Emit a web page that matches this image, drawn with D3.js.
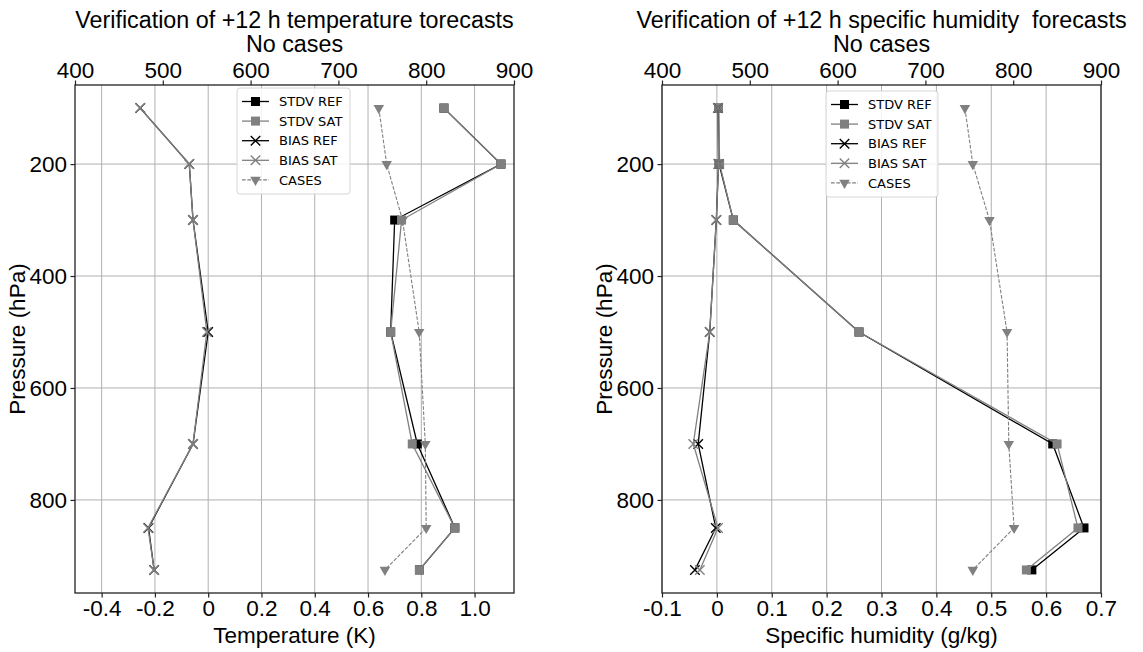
<!DOCTYPE html>
<html>
<head>
<meta charset="utf-8">
<script src="https://cdn.jsdelivr.net/npm/d3@7"></script>
<style>
    body { margin: 0; background: #fff; }
    svg text { font-family: "Liberation Sans", Arial, sans-serif; fill: #000; }
    svg .legend text { font-family: "DejaVu Sans", sans-serif; }
</style>
</head>
<body>
<div id="graph-container"></div>
<script>
// DATA
const pressureLevels = [100, 200, 300, 500, 700, 850, 925]

const tempStdvRef = [0.885, 1.099, 0.700, 0.685, 0.785, 0.926, 0.793]
const tempStdvSat = [0.885, 1.099, 0.726, 0.685, 0.766, 0.926, 0.793]
const tempBiasRef = [-0.255, -0.071, -0.057, 0.000, -0.057, -0.224, -0.203]
const tempBiasSat = [-0.255, -0.071, -0.057, -0.005, -0.057, -0.226, -0.203]
const tempCases = [746, 755, 773, 792, 799, 800, 753]

const humStdvRef = [0.003, 0.004, 0.030, 0.259, 0.612, 0.669, 0.574]
const humStdvSat = [0.003, 0.005, 0.030, 0.259, 0.620, 0.658, 0.564]
const humBiasRef = [0.002, 0.003, -0.001, -0.013, -0.034, -0.002, -0.040]
const humBiasSat = [0.002, 0.003, -0.001, -0.013, -0.043, 0.002, -0.031]
const humCases = [745, 754, 773, 793, 795, 801, 754]

const tempTicks = [-0.4, -0.2, 0, 0.2, 0.4, 0.6, 0.8, 1.0]
const humTicks = [-0.1, 0, 0.1, 0.2, 0.3, 0.4, 0.5, 0.6, 0.7]
const caseTicks = [400, 500, 600, 700, 800, 900]
const pressureTicks = [200, 400, 600, 800]
const legendLabels = ['STDV REF', 'STDV SAT', 'BIAS REF', 'BIAS SAT', 'CASES']

// SETTINGS
const settings = {
    width: 1143,
    height: 652,
    top: 85,
    bottom: 593,
    fontSize: 22.5,
    titleSize: 23.3,
    gridColor: '#b0b0b0',
    refColor: '#000000',
    satColor: '#808080',
    pressureDomain: [966.25, 58.75],
    caseDomain: [400, 900]
}

const panels = [
    {
        left: 75, right: 514,
        title: 'Verification of +12 h temperature torecasts',
        xLabel: 'Temperature (K)',
        xDomain: [-0.5, 1.148],
        xTicks: tempTicks,
        series: [tempStdvRef, tempStdvSat, tempBiasRef, tempBiasSat],
        cases: tempCases,
        legend: { x: 237, y: 88, width: 113 }
    },
    {
        left: 662, right: 1101,
        title: 'Verification of +12 h specific humidity\u00a0 forecasts',
        xLabel: 'Specific humidity (g/kg)',
        xDomain: [-0.1, 0.7],
        xTicks: humTicks,
        series: [humStdvRef, humStdvSat, humBiasRef, humBiasSat],
        cases: humCases,
        legend: { x: 826, y: 91, width: 112 }
    }
]

// style for each line: STDV REF, STDV SAT, BIAS REF, BIAS SAT, CASES
const styles = [
    { color: settings.refColor, symbol: d3.symbolSquare, size: 81, filled: true, dash: null },
    { color: settings.satColor, symbol: d3.symbolSquare, size: 81, filled: true, dash: null },
    { color: settings.refColor, symbol: d3.symbolTimes, size: 60, filled: false, dash: null },
    { color: settings.satColor, symbol: d3.symbolTimes, size: 60, filled: false, dash: null },
    { color: settings.satColor, symbol: d3.symbolTriangle, size: 48, filled: true, dash: '3.7,1.6', rotate: 180 }
]

const fmt = d => d === 0 ? '0' : d.toFixed(1)

const svg = d3.select('#graph-container').append('svg')
    .attr('width', settings.width)
    .attr('height', settings.height)

panels.forEach(p => drawPanel(svg, p))

function drawPanel(svg, p) {
    const x = d3.scaleLinear().domain(p.xDomain).range([p.left, p.right])
    const xTop = d3.scaleLinear().domain(settings.caseDomain).range([p.left, p.right])
    const y = d3.scaleLinear().domain(settings.pressureDomain).range([settings.bottom, settings.top])
    const g = svg.append('g')

    // grid
    g.selectAll('.vgrid').data(p.xTicks).enter().append('line')
        .attr('x1', d => x(d)).attr('x2', d => x(d))
        .attr('y1', settings.top).attr('y2', settings.bottom)
        .attr('stroke', settings.gridColor).attr('stroke-width', 1)
    g.selectAll('.hgrid').data(pressureTicks).enter().append('line')
        .attr('x1', p.left).attr('x2', p.right)
        .attr('y1', d => y(d)).attr('y2', d => y(d))
        .attr('stroke', settings.gridColor).attr('stroke-width', 1)

    // data lines
    p.series.forEach((values, i) => drawSeries(g, values.map((v, k) => [x(v), y(pressureLevels[k])]), styles[i]))
    drawSeries(g, p.cases.map((v, k) => [xTop(v), y(pressureLevels[k])]), styles[4])

    // frame
    g.append('rect')
        .attr('x', p.left).attr('y', settings.top)
        .attr('width', p.right - p.left).attr('height', settings.bottom - settings.top)
        .attr('fill', 'none').attr('stroke', '#222').attr('stroke-width', 1.3)

    // axes
    const xAxis = d3.axisBottom(x).tickValues(p.xTicks).tickFormat(fmt).tickSize(4.5).tickPadding(3)
    const topAxis = d3.axisTop(xTop).tickValues(caseTicks).tickFormat(d3.format('d')).tickSize(4.5).tickPadding(3)
    const yAxis = d3.axisLeft(y).tickValues(pressureTicks).tickFormat(d3.format('d')).tickSize(4.5).tickPadding(3.5)

    styleAxis(g.append('g').attr('transform', `translate(0, ${settings.bottom})`).call(xAxis))
    styleAxis(g.append('g').attr('transform', `translate(0, ${settings.top})`).call(topAxis))
    styleAxis(g.append('g').attr('transform', `translate(${p.left}, 0)`).call(yAxis))

    const cx = (p.left + p.right) / 2
    g.append('text').attr('x', cx).attr('y', 28).attr('text-anchor', 'middle')
        .style('font-size', settings.titleSize + 'px').text(p.title)
    g.append('text').attr('x', cx).attr('y', 52).attr('text-anchor', 'middle')
        .style('font-size', settings.titleSize + 'px').text('No cases')
    g.append('text').attr('x', cx).attr('y', 643).attr('text-anchor', 'middle')
        .style('font-size', settings.fontSize + 'px').text(p.xLabel)
    g.append('text')
        .attr('transform', `translate(${p.left - 50}, ${(settings.top + settings.bottom) / 2}) rotate(-90)`)
        .attr('text-anchor', 'middle')
        .style('font-size', settings.fontSize + 'px').text('Pressure (hPa)')

    drawLegend(g, p.legend)
}

function drawMarkers(g, points, s) {
    g.selectAll(null).data(points).enter().append('path')
        .attr('transform', d => `translate(${d[0]}, ${d[1]})` + (s.rotate ? ` rotate(${s.rotate})` : ''))
        .attr('d', d3.symbol().type(s.symbol).size(s.size))
        .attr('fill', s.filled ? s.color : 'none')
        .attr('stroke', s.filled ? 'none' : s.color)
        .attr('stroke-width', 1.4)
}

function drawLine(g, points, s) {
    g.append('path')
        .attr('d', d3.line()(points))
        .attr('fill', 'none')
        .attr('stroke', s.color)
        .attr('stroke-width', s.dash ? 1.1 : 1.3)
        .attr('stroke-dasharray', s.dash)
}

function drawSeries(g, points, s) {
    drawLine(g, points, s)
    drawMarkers(g, points, s)
}

function styleAxis(sel) {
    sel.select('.domain').remove()
    sel.selectAll('.tick line').attr('stroke', '#222').attr('stroke-width', 1.2)
    sel.selectAll('.tick text')
        .style('font-size', settings.fontSize + 'px')
        .style('font-family', '"Liberation Sans", Arial, sans-serif')
        .attr('fill', '#000')
}

function drawLegend(g, l) {
    const rowH = 19.6
    const lg = g.append('g').attr('class', 'legend')
    lg.append('rect')
        .attr('x', l.x).attr('y', l.y)
        .attr('width', l.width).attr('height', rowH * legendLabels.length + 8)
        .attr('rx', 3)
        .attr('fill', 'white').attr('fill-opacity', 0.85)
        .attr('stroke', '#d6d6d6').attr('stroke-width', 1)
    legendLabels.forEach((label, i) => {
        const cy = l.y + 13.5 + i * rowH
        const s = styles[i]
        const x0 = l.x + 5, x1 = l.x + 32
        drawLine(lg, [[x0, cy], [x1, cy]], s)
        drawMarkers(lg, [[(x0 + x1) / 2, cy]], s)
        lg.append('text')
            .attr('x', l.x + 42).attr('y', cy)
            .attr('dy', '0.36em')
            .style('font-size', '13px')
            .text(label)
    })
}
</script>
</body>
</html>
